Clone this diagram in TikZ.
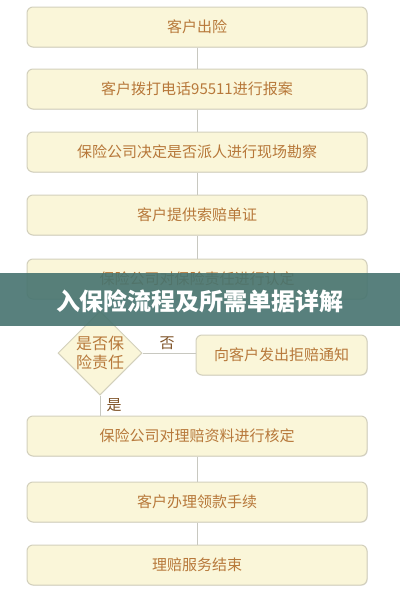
\documentclass[tikz,border=0pt]{standalone}
\usepackage{fontspec}
\setmainfont{Noto Sans CJK SC}
\usetikzlibrary{shapes.geometric,shadows}
\definecolor{boxfill}{HTML}{FAF6D9}
\definecolor{boxline}{HTML}{D3D0BC}
\definecolor{txt}{HTML}{B7783A}
\definecolor{conn}{HTML}{C8C8C0}
\definecolor{banner}{HTML}{46736F}
\begin{document}
\begin{tikzpicture}[x=1pt,y=-1pt,
  stepbox/.style={draw=boxline,line width=1pt,fill=boxfill,rounded corners=6pt,
    minimum width=340pt,minimum height=40pt,inner sep=0pt,
    font=\fontsize{15}{17}\selectfont,text=txt,
    drop shadow={shadow xshift=0.6pt,shadow yshift=-0.6pt,fill=black!25,opacity=0.5}},
  smallbox/.style={stepbox,minimum width=171pt},
  decision/.style={diamond,draw=boxline,line width=1pt,fill=boxfill,
    minimum width=84pt,minimum height=84pt,inner sep=0pt,aspect=1,
    font=\fontsize{16}{19}\selectfont,text=txt,align=center},
  link/.style={draw=conn,line width=1pt},
  lbl/.style={font=\fontsize{15}{17}\selectfont,text=txt!70!black}]
\useasboundingbox (0,0) rectangle (400,600);
\fill[white] (0,0) rectangle (400,600);
\node[stepbox] (b1) at (197,27) {客户出险};
\node[stepbox] (b2) at (197,89) {客户拨打电话95511进行报案};
\node[stepbox] (b3) at (197,152) {保险公司决定是否派人进行现场勘察};
\node[stepbox] (b4) at (197,215) {客户提供索赔单证};
\node[stepbox] (b5) at (197,279) {保险公司对保险责任进行认定};
\node[decision] (d) at (100,353) {是否保\\险责任};
\node[smallbox] (r) at (281.5,355) {向客户发出拒赔通知};
\node[stepbox] (b6) at (197,436) {保险公司对理赔资料进行核定};
\node[stepbox] (b7) at (197,502) {客户办理领款手续};
\node[stepbox] (b8) at (197,565) {理赔服务结束};
\draw[link] (b1.south) -- (b2.north);
\draw[link] (b2.south) -- (b3.north);
\draw[link] (b3.south) -- (b4.north);
\draw[link] (b4.south) -- (b5.north);
\draw[link] (b5.south -| d.north) -- (d.north);
\draw[link] (d.east) -- (d.east -| r.west);
\draw[link] (d.south) -- (d.south |- b6.north);
\draw[link] (b6.south) -- (b7.north);
\draw[link] (b7.south) -- (b8.north);
\node[lbl] (no) at (167,343) {否};
\node[lbl] (yes) at (114,405) {是};
\fill[banner,opacity=0.9] (0,273) rectangle (400,326);
\node[font=\fontsize{24}{28}\selectfont\bfseries,text=white] (title) at (200,301) {入保险流程及所需单据详解};
\end{tikzpicture}
\end{document}
